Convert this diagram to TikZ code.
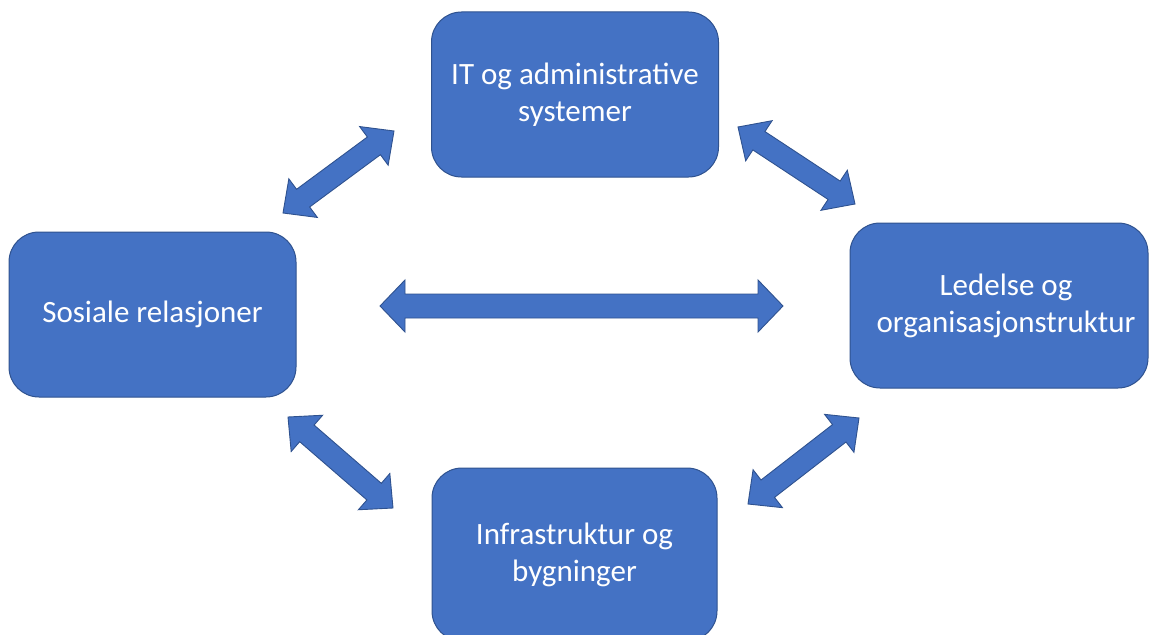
\documentclass[tikz,border=0pt]{standalone}
\usepackage{fontspec}
\setmainfont{Carlito}
\usetikzlibrary{calc}
\definecolor{boxfill}{HTML}{4472C4}
\definecolor{boxline}{HTML}{2F528F}
\tikzset{
  box/.style={draw=boxline, line width=1pt, fill=boxfill, rounded corners=30pt,
    text=white, align=center, inner sep=0pt,
    font=\fontsize{31}{37}\selectfont},
  blockarr/.style={draw=boxline, line width=0.9pt, fill=boxfill, line join=miter}
}
\newcommand\blockarrow[5]{% from, to, shaft half, head half, head length
  \draw[blockarr] let \p1=(#1), \p2=(#2), \n1={atan2(\y2-\y1,\x2-\x1)} in
    (\p1)
    -- ($(\p1)+(\n1:#5)+({\n1+90}:#4)$)
    -- ($(\p1)+(\n1:#5)+({\n1+90}:#3)$)
    -- ($(\p2)+(\n1:-#5)+({\n1+90}:#3)$)
    -- ($(\p2)+(\n1:-#5)+({\n1+90}:#4)$)
    -- (\p2)
    -- ($(\p2)+(\n1:-#5)+({\n1-90}:#4)$)
    -- ($(\p2)+(\n1:-#5)+({\n1-90}:#3)$)
    -- ($(\p1)+(\n1:#5)+({\n1-90}:#3)$)
    -- ($(\p1)+(\n1:#5)+({\n1-90}:#4)$)
    -- cycle;}
\begin{document}
\begin{tikzpicture}[x=1pt,y=-1pt]
\useasboundingbox (0,0) rectangle (1150,634);
\clip (0,0) rectangle (1150,634);
% boxes
\node[box, minimum width=287pt, minimum height=165pt] (it) at (575,94.5)
  {IT og administrative\\systemer};
\node[box, minimum width=287pt, minimum height=165pt] (sos) at (152.5,314.5)
  {Sosiale relasjoner};
\node[box, minimum width=298pt, minimum height=165pt] (led) at (999,305.5)
  {\hspace*{14pt}Ledelse og\\\hspace*{14pt}organisasjonstruktur};
\node[box, minimum width=285pt, minimum height=173pt] (inf) at (574.5,554.5)
  {Infrastruktur og\\bygninger};
% arrow end points
\coordinate (a1s) at (283,213);
\coordinate (a1e) at (394,131);
\coordinate (a2s) at (738,127);
\coordinate (a2e) at (855,204);
\coordinate (a3s) at (380,306);
\coordinate (a3e) at (783,306);
\coordinate (a4s) at (288,417);
\coordinate (a4e) at (393,508);
\coordinate (a5s) at (859,418);
\coordinate (a5e) at (748,504);
% arrows
\blockarrow{a1s}{a1e}{11pt}{24pt}{25pt}
\blockarrow{a2s}{a2e}{11pt}{24pt}{25pt}
\blockarrow{a3s}{a3e}{12pt}{26pt}{25pt}
\blockarrow{a4s}{a4e}{11pt}{24pt}{25pt}
\blockarrow{a5s}{a5e}{11pt}{24pt}{25pt}
\end{tikzpicture}
\end{document}
